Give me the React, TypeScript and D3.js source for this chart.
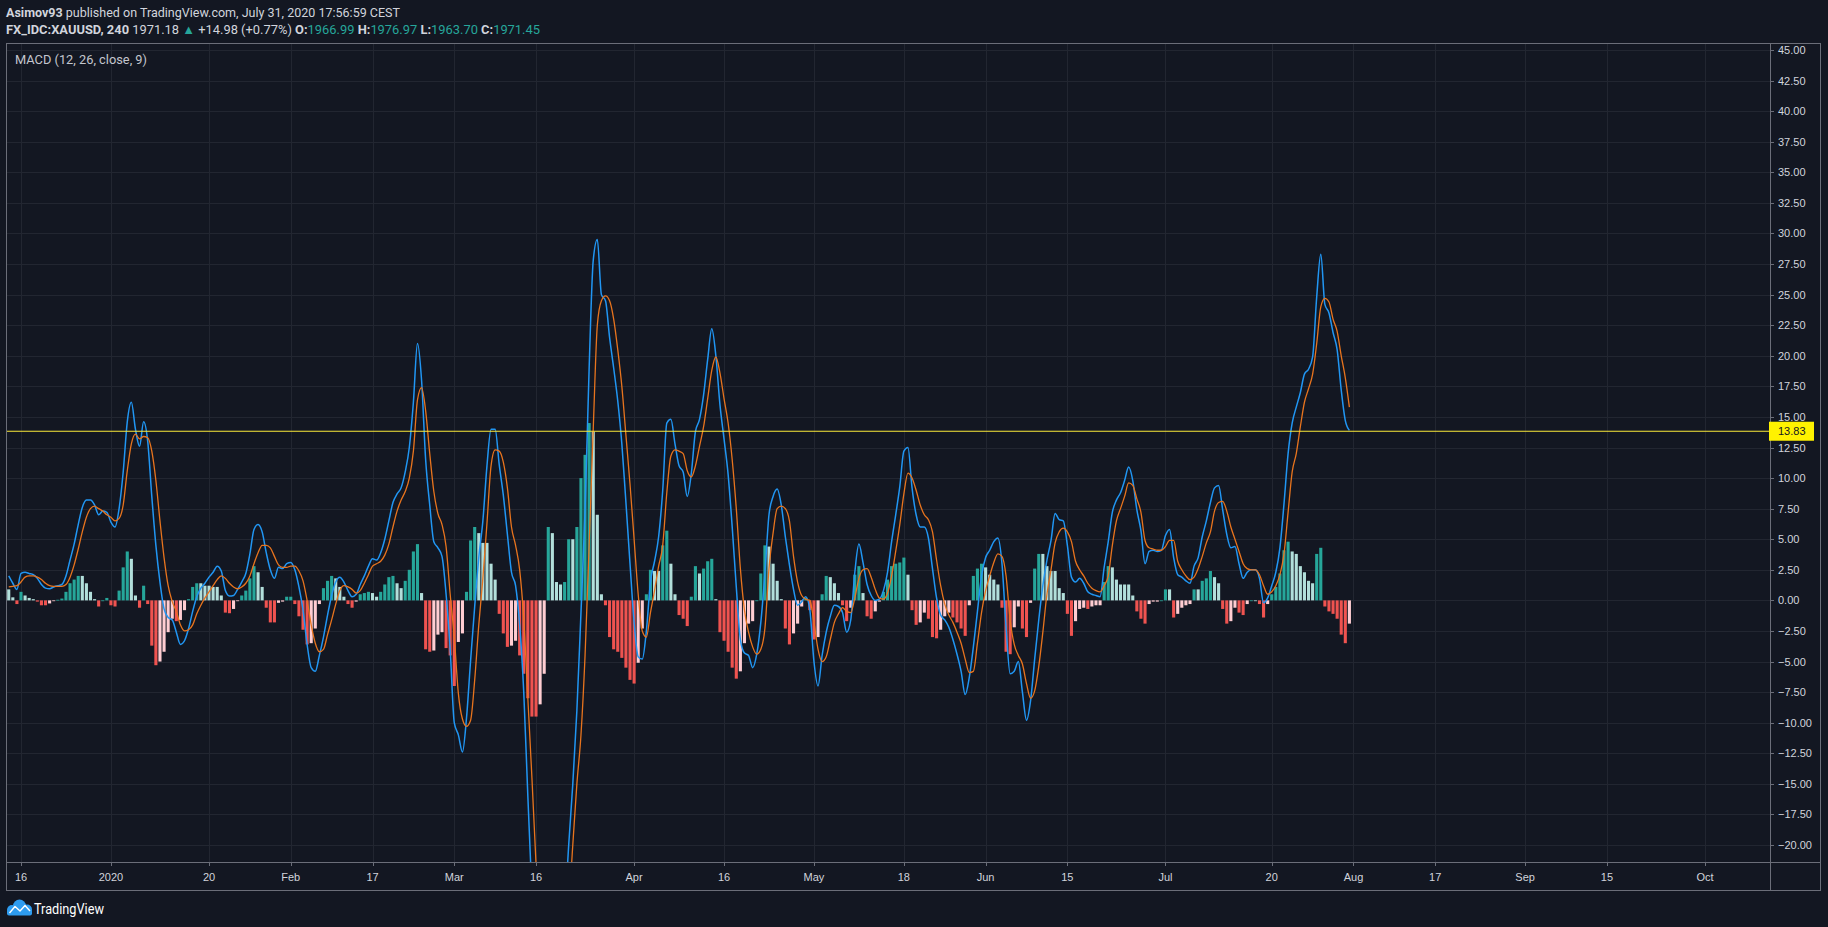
import React from 'react';
import * as d3 from 'd3';

// ---- data (half-day samples, trading-day index from 16 Dec 2019) ----
const START_DAY = -1.5;
const STEP = 0.5;

const macd = [
  2.0, 1.4, 0.9, 2.2, 2.3, 2.2, 2.1, 1.8, 1.3, 1.0,
  0.95, 1.1, 1.2, 1.3, 2.0, 3.3, 4.6, 6.2, 7.6, 8.2,
  8.2, 7.8, 7.0, 7.3, 7.2, 6.4, 6.0, 7.5, 10.5, 14.6,
  16.2, 14.0, 12.6, 14.6, 13.0, 8.5, 4.5, 1.5, -0.7, -1.4,
  -1.6, -2.6, -3.6, -3.3, -2.3, -0.9, 0.3, 1.0, 1.4, 1.9,
  2.3, 2.8, 2.4, 0.8, 0.35, 0.4, 0.9, 1.5, 2.2, 3.8,
  5.8, 6.2, 5.6, 3.9, 2.5, 1.8, 2.7, 2.6, 3.0, 3.1,
  2.5, 1.1, -0.8, -3.6, -5.5, -5.8, -4.5, -3.0, -1.2, 0.4,
  1.5, 1.9, 1.5, 0.8, 0.3, 0.5, 1.3, 2.0, 2.8, 3.4,
  3.3, 3.9, 5.0, 6.5, 8.0, 8.7, 9.2, 10.5, 12.5, 16.2,
  21.0, 18.0, 11.5, 7.8, 4.8, 4.3, 3.6, 0.5, -4.0, -10.0,
  -11.0, -12.4, -9.6, -4.9, -0.5, 3.5, 6.5, 11.0, 14.0, 14.0,
  11.1, 8.6, 5.4, 2.3, 1.2, -2.0, -7.5, -16.0, -24.0, -31.0,
  -36.0, -38.0, -27.0, -26.0, -29.0, -28.0, -25.5, -20.0, -15.0, -9.0,
  -1.0, 7.4, 19.0, 27.8, 29.5, 25.0, 24.5, 21.5, 19.0, 16.3,
  12.8, 8.0, 3.0, -1.8, -4.6, -4.8, -2.5, 1.5, 3.2, 5.2,
  9.0, 14.5, 14.8, 12.8, 11.0, 10.5, 8.5, 10.4, 13.8, 14.8,
  16.8, 19.7, 22.2, 20.0, 16.0, 13.2, 10.3, 6.0, 1.1, -3.2,
  -4.3, -4.5, -5.5, -4.4, -1.8, 2.2, 7.0, 8.5, 9.1, 7.8,
  5.2, 2.9, 0.9, -0.4, -0.1, 0.3, -0.8, -5.0, -7.0, -4.5,
  -2.6, -1.3, -0.4, -0.5, -1.0, -2.6, -1.6, 2.3, 4.6, 3.1,
  1.3, 0.4, 0.0, 0.1, 0.8, 2.3, 4.8, 7.0, 9.3, 12.2,
  12.5, 9.2, 7.0, 6.0, 6.0, 5.1, 2.6, 0.2, -1.2, -1.6,
  -2.2, -3.2, -4.4, -5.8, -7.7, -6.3, -3.8, -0.9, 2.0, 3.5,
  4.1, 4.8, 5.1, 3.0, -2.2, -6.0, -5.8, -5.0, -7.5, -9.8,
  -8.2, -4.8, -1.6, 1.2, 3.3, 4.9, 7.1, 6.6, 6.5, 4.5,
  1.9, 1.5, 1.8, 1.4, 0.7, 0.5, 0.4, 0.3, 2.7, 4.8,
  7.2, 8.2, 8.8, 9.8, 10.9, 9.8, 7.4, 5.7, 3.0, 4.0,
  4.1, 4.0, 4.1, 5.3, 5.8, 3.5, 2.1, 1.9, 1.6, 1.4,
  2.8, 3.5, 5.2, 6.5, 8.0, 9.2, 9.4, 7.4, 5.4, 4.3,
  4.4, 3.0, 1.8, 2.3, 2.5, 2.5, 1.8, -0.2, 0.2, 1.2,
  2.3, 4.3, 7.9, 12.0, 14.5, 15.8, 17.0, 18.5, 18.9, 19.9,
  24.8, 28.3, 24.2, 23.5, 21.9, 20.5, 17.2, 14.7, 13.9,
];

const signal = [
  1.1, 1.15, 1.2, 1.5, 1.9, 2.0, 2.0, 1.9, 1.7, 1.4,
  1.2, 1.15, 1.15, 1.15, 1.3, 1.9, 2.9, 4.2, 5.6, 6.8,
  7.5, 7.7, 7.5, 7.3, 7.0, 6.8, 6.5, 6.7, 7.8, 10.6,
  12.8, 13.6, 13.2, 13.4, 13.3, 12.2, 9.8, 6.5, 3.5, 1.2,
  -0.1, -0.9, -2.0, -2.5, -2.4, -2.0, -1.1, -0.4, 0.2, 0.7,
  1.2, 1.7, 2.0, 1.8, 1.4, 1.1, 0.95, 1.1, 1.4, 2.0,
  3.0, 3.9, 4.5, 4.5, 4.3, 3.6, 2.9, 2.7, 2.7, 2.8,
  2.8, 2.4, 1.6, 0.0, -2.0, -3.5, -4.2, -4.0, -2.8, -1.6,
  -0.3, 0.8, 1.2, 1.1, 0.9, 0.6, 0.8, 1.4, 2.1, 2.8,
  3.0, 3.2, 3.7, 4.6, 6.0, 7.3, 8.2, 8.9, 10.0, 12.2,
  16.4, 17.4, 15.5, 12.0, 8.9, 7.1, 6.2, 4.4, 0.5, -3.0,
  -7.6, -9.7, -10.3, -9.8, -6.5, -2.0, 1.8, 6.3, 11.0, 12.3,
  12.2, 11.3, 9.2, 6.0, 4.5, 2.5, -1.5, -8.0, -14.5, -21.5,
  -27.5, -32.0, -33.0, -31.5, -30.5, -29.3, -27.0, -25.0, -20.0, -15.0,
  -11.0, -4.5, 4.5, 14.0, 22.5, 24.5, 24.9, 24.5, 23.0, 20.5,
  17.5, 13.5, 9.5, 5.0, 0.5, -2.5, -3.0, -1.0, 0.8, 2.8,
  4.5, 8.8, 11.8, 12.3, 12.2, 12.0, 10.6, 10.1, 11.0, 12.6,
  14.2, 16.5, 18.8, 19.9, 18.6, 16.5, 14.5, 11.5, 7.5, 2.6,
  -0.8, -2.6, -3.8, -4.4, -4.0, -2.3, 2.6, 5.5, 7.5, 7.7,
  7.5, 6.5, 3.6, 1.5, 0.4, 0.1, 0.0, -1.8, -4.0, -5.0,
  -4.6, -3.2, -1.8, -1.1, -0.6, -0.9, -1.0, 0.2, 1.8, 2.5,
  2.6, 1.9, 0.9, 0.2, 0.1, 0.6, 2.0, 4.0, 6.2, 8.7,
  10.4, 10.0, 9.0, 7.8, 7.0, 6.6, 5.6, 3.3, 1.2, -0.3,
  -1.2, -1.8, -2.6, -3.5, -4.8, -5.9, -5.8, -3.5, -1.0, 0.8,
  2.0, 3.1, 3.8, 3.6, 2.0, -1.6, -3.6, -4.5, -5.2, -6.8,
  -8.0, -7.4, -5.4, -2.6, 0.5, 2.5, 4.7, 5.6, 5.9, 5.6,
  4.8, 3.2, 2.5, 2.0, 1.4, 1.0, 0.8, 0.7, 1.2, 2.0,
  4.5, 6.5, 7.5, 8.5, 9.6, 9.4, 8.3, 7.2, 4.9, 4.3,
  4.2, 4.1, 4.1, 4.4, 4.9, 4.9, 3.2, 2.5, 2.0, 1.7,
  1.9, 2.6, 3.6, 4.7, 5.6, 7.3, 8.0, 8.1, 7.3, 6.0,
  5.0, 4.0, 3.0, 2.6, 2.5, 2.5, 2.1, 1.2, 0.5, 0.7,
  1.2, 2.1, 3.8, 7.2, 10.5, 12.0, 14.2, 16.2, 17.3, 18.5,
  21.0, 24.0, 24.7, 24.4, 23.0, 22.0, 20.0, 18.2, 15.8,
];

const xTickLabels = ['16', '2020', '20', 'Feb', '17', 'Mar', '16', 'Apr', '16', 'May', '18', 'Jun', '15', 'Jul', '20', 'Aug', '17', 'Sep', '15', 'Oct'];
const xTickDays = [0, 11, 23, 33, 43, 53, 63, 75, 86, 97, 108, 118, 128, 140, 153, 163, 173, 184, 194, 206];

const yTickValues = [-20, -17.5, -15, -12.5, -10, -7.5, -5, -2.5, 0, 2.5, 5, 7.5, 10, 12.5, 15, 17.5, 20, 22.5, 25, 27.5, 30, 32.5, 35, 37.5, 40, 42.5, 45];
const levelLine = 13.83;

const COLORS = {
  bg: '#131722',
  grid: '#222631',
  border: '#6b6e79',
  text: '#d1d4dc',
  macd: '#2196F3',
  signal: '#E8741E',
  growAbove: '#26A69A',
  fallAbove: '#B2DFDB',
  growBelow: '#FFCDD2',
  fallBelow: '#EF5350',
  level: '#FBEA3A',
  teal: '#26a69a',
  logo: '#2E9CF0',
};

const fmt = (v: number) => (v < 0 ? '\u2212' + Math.abs(v).toFixed(2) : v.toFixed(2));

export default function App() {
  const W = 1828;
  const H = 927;
  const L = 6, T = 43, R = 1770, B = 862, RR = 1821, BB = 891;

  const x = d3.scaleLinear().domain([0, 206]).range([21, 1705]);
  const y = d3.scaleLinear().domain([-20, 45]).range([845, 50]);

  const pts = macd.map((m, i) => ({ d: START_DAY + i * STEP, m, s: signal[i], h: m - signal[i] }));

  const lineM = d3.line<any>().x((p) => x(p.d)).y((p) => y(p.m)).curve(d3.curveMonotoneX);
  const lineS = d3.line<any>().x((p) => x(p.d)).y((p) => y(p.s)).curve(d3.curveMonotoneX);

  const barW = 3.1;
  const y0 = y(0);

  return (
    <div style={{ position: 'absolute', left: 0, top: 0, width: W, height: H }}>
      <svg width={W} height={H} style={{ display: 'block' }}>
        <defs>
          <clipPath id="pane">
            <rect x={L} y={T} width={R - L} height={B - T} />
          </clipPath>
        </defs>
        <rect x={0} y={0} width={W} height={H} fill={COLORS.bg} />

        {/* header */}
        <text x={6} y={16.5} fontFamily="Roboto, 'Noto Sans', sans-serif" fontSize={13} fill={COLORS.text} textLength={394} lengthAdjust="spacingAndGlyphs">
          <tspan fontWeight="bold">Asimov93</tspan>
          <tspan>{' published on TradingView.com, July 31, 2020 17:56:59 CEST'}</tspan>
        </text>
        <text x={6} y={33.5} fontFamily="Roboto, 'Noto Sans', sans-serif" fontSize={13} fill={COLORS.text} textLength={534} lengthAdjust="spacingAndGlyphs">
          <tspan fontWeight="bold">FX_IDC:XAUUSD, 240</tspan>
          <tspan>{' 1971.18 '}</tspan>
          <tspan fill={COLORS.teal}>{'\u25B2'}</tspan>
          <tspan>{' +14.98 (+0.77%) '}</tspan>
          <tspan fontWeight="bold">O:</tspan>
          <tspan fill={COLORS.teal}>1966.99</tspan>
          <tspan fontWeight="bold">{' H:'}</tspan>
          <tspan fill={COLORS.teal}>1976.97</tspan>
          <tspan fontWeight="bold">{' L:'}</tspan>
          <tspan fill={COLORS.teal}>1963.70</tspan>
          <tspan fontWeight="bold">{' C:'}</tspan>
          <tspan fill={COLORS.teal}>1971.45</tspan>
        </text>

        {/* grid */}
        <g stroke={COLORS.grid} strokeWidth={1}>
          {yTickValues.map((v) => (
            <line key={'gy' + v} x1={L} x2={R} y1={Math.round(y(v)) + 0.5} y2={Math.round(y(v)) + 0.5} />
          ))}
          {xTickDays.map((d, i) => (
            <line key={'gx' + i} x1={Math.round(x(d)) + 0.5} x2={Math.round(x(d)) + 0.5} y1={T} y2={B} />
          ))}
        </g>

        {/* MACD pane */}
        <g clipPath="url(#pane)">
          {pts.map((p, i) => {
            const prev = i > 0 ? pts[i - 1].h : p.h;
            const col = p.h >= 0 ? (prev < p.h ? COLORS.growAbove : COLORS.fallAbove) : (prev < p.h ? COLORS.growBelow : COLORS.fallBelow);
            const yy = y(p.h);
            return (
              <rect key={'h' + i} x={x(p.d) - barW / 2} y={Math.min(yy, y0)} width={barW} height={Math.max(0.8, Math.abs(yy - y0))} fill={col} />
            );
          })}
          <path d={lineM(pts) || ''} fill="none" stroke={COLORS.macd} strokeWidth={1.5} />
          <path d={lineS(pts) || ''} fill="none" stroke={COLORS.signal} strokeWidth={1.3} />
          <line x1={L} x2={R} y1={y(levelLine)} y2={y(levelLine)} stroke={COLORS.level} strokeWidth={1.2} />
        </g>

        <text x={15} y={63.5} fontFamily="Roboto, 'Noto Sans', sans-serif" fontSize={13} fill="#c3c6ce" textLength={132} lengthAdjust="spacingAndGlyphs">
          MACD (12, 26, close, 9)
        </text>

        {/* borders */}
        <g stroke={COLORS.border} strokeWidth={1} fill="none">
          <rect x={L + 0.5} y={T + 0.5} width={RR - L - 1} height={BB - T - 1} />
          <line x1={R + 0.5} x2={R + 0.5} y1={T} y2={BB} />
          <line x1={L} x2={RR} y1={B + 0.5} y2={B + 0.5} />
        </g>

        {/* y axis */}
        <g fontFamily="'Liberation Sans', Arial, sans-serif" fontSize={11} fill={COLORS.text}>
          {yTickValues.map((v) => (
            <g key={'yt' + v}>
              <line x1={R} x2={R + 4} y1={Math.round(y(v)) + 0.5} y2={Math.round(y(v)) + 0.5} stroke={COLORS.border} />
              <text x={1778} y={y(v) + 4}>{fmt(v)}</text>
            </g>
          ))}
        </g>

        {/* level label */}
        <rect x={1769} y={y(levelLine) - 9.5} width={45} height={19} fill="#FFF200" />
        <text x={1778} y={y(levelLine) + 4} fontFamily="'Liberation Sans', Arial, sans-serif" fontSize={11} fill="#131722">
          {levelLine.toFixed(2)}
        </text>

        {/* x axis */}
        <g fontFamily="'Liberation Sans', Arial, sans-serif" fontSize={11} fill={COLORS.text} textAnchor="middle">
          {xTickDays.map((d, i) => (
            <g key={'xt' + i}>
              <line x1={Math.round(x(d)) + 0.5} x2={Math.round(x(d)) + 0.5} y1={B} y2={B + 4} stroke={COLORS.border} />
              <text x={x(d)} y={881}>{xTickLabels[i]}</text>
            </g>
          ))}
        </g>

        {/* logo */}
        <g>
          <g fill={COLORS.logo}>
            <circle cx={12} cy={910} r={5} />
            <circle cx={19.5} cy={906} r={6.5} />
            <circle cx={27} cy={909.5} r={5} />
            <rect x={7} y={909} width={25} height={6.5} rx={2} />
          </g>
          <path d="M9.5,913 L15,906.5 L20,911 L25,905.5 L30,911" fill="none" stroke="#ffffff" strokeWidth={1.4} strokeLinejoin="round" />
          <text x={34} y={913.5} fontFamily="Roboto, 'Noto Sans', sans-serif" fontSize={14} fill="#ffffff" textLength={70} lengthAdjust="spacingAndGlyphs">
            TradingView
          </text>
        </g>
      </svg>
    </div>
  );
}
